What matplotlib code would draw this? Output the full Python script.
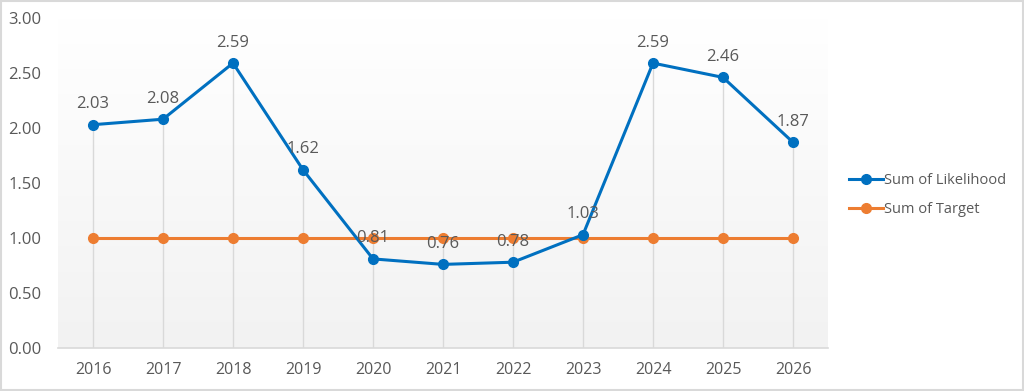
import matplotlib
matplotlib.use("Agg")
import matplotlib.pyplot as plt
import numpy as np
from matplotlib.colors import LinearSegmentedColormap

years = ["2016", "2017", "2018", "2019", "2020", "2021", "2022", "2023", "2024", "2025", "2026"]
likelihood = [2.03, 2.08, 2.59, 1.62, 0.81, 0.76, 0.78, 1.03, 2.59, 2.46, 1.87]
target = [1, 1, 1, 1, 1, 1, 1, 1, 1, 1, 1]
yticks = [0.0, 0.5, 1.0, 1.5, 2.0, 2.5, 3.0]

plt.rcParams['font.family'] = ['Open Sans', 'DejaVu Sans']
txt = '#595959'
blue = '#0070C0'
orange = '#ED7D31'

fig = plt.figure(figsize=(10.24, 3.91), dpi=100)
W, H = 1024, 391
ax = fig.add_axes([58 / W, 1 - 348 / H, (828 - 58) / W, (348 - 18) / H])

x = np.arange(len(years))
ax.set_xlim(-0.5, len(years) - 0.5)
ax.set_ylim(0, 3.0)

# gradient background
grad = np.linspace(0, 1, 256).reshape(-1, 1)
cmap = LinearSegmentedColormap.from_list('g', ['#f2f2f2', '#ffffff'])
ax.imshow(grad, aspect='auto', cmap=cmap, extent=(-0.5, len(years) - 0.5, 0, 3.0),
          origin='lower', zorder=0)

# drop lines
tops = np.maximum(likelihood, target)
ax.vlines(x, 0, tops, colors='#d9d9d9', linewidth=1, zorder=1)

ax.plot(x, likelihood, color=blue, lw=2.2, marker='o', ms=7, label='Sum of Likelihood', zorder=3)
ax.plot(x, target, color=orange, lw=2.2, marker='o', ms=7, label='Sum of Target', zorder=2)

for xi, v in zip(x, likelihood):
    ax.annotate(f"{v:.2f}", (xi, v), xytext=(0, 9), textcoords='offset points',
                ha='center', va='bottom', color=txt, fontsize=12, zorder=4)

ax.set_xticks(x)
ax.set_xticklabels(years, color=txt, fontsize=11.5)
ax.set_yticks(yticks)
ax.set_yticklabels([f"{v:.2f}" for v in yticks], color=txt, fontsize=12)
ax.tick_params(axis='x', length=0, pad=10)
ax.tick_params(axis='y', length=0, pad=12)
for s in ['top', 'right', 'left']:
    ax.spines[s].set_visible(False)
ax.spines['bottom'].set_color('#d9d9d9')
ax.spines['bottom'].set_linewidth(1.2)

leg = fig.legend(loc='center left', bbox_to_anchor=(836 / W, 1 - 195 / H), frameon=False,
                 fontsize=10.5, labelcolor=txt, handlelength=2.3, handletextpad=0.1,
                 labelspacing=1.0)

# figure border
fig.patches.append(plt.Rectangle((0.001, 0.002), 0.998, 0.995, transform=fig.transFigure,
                                 fill=False, edgecolor='#d9d9d9', lw=1.5))

fig.savefig('out.png', dpi=100)
